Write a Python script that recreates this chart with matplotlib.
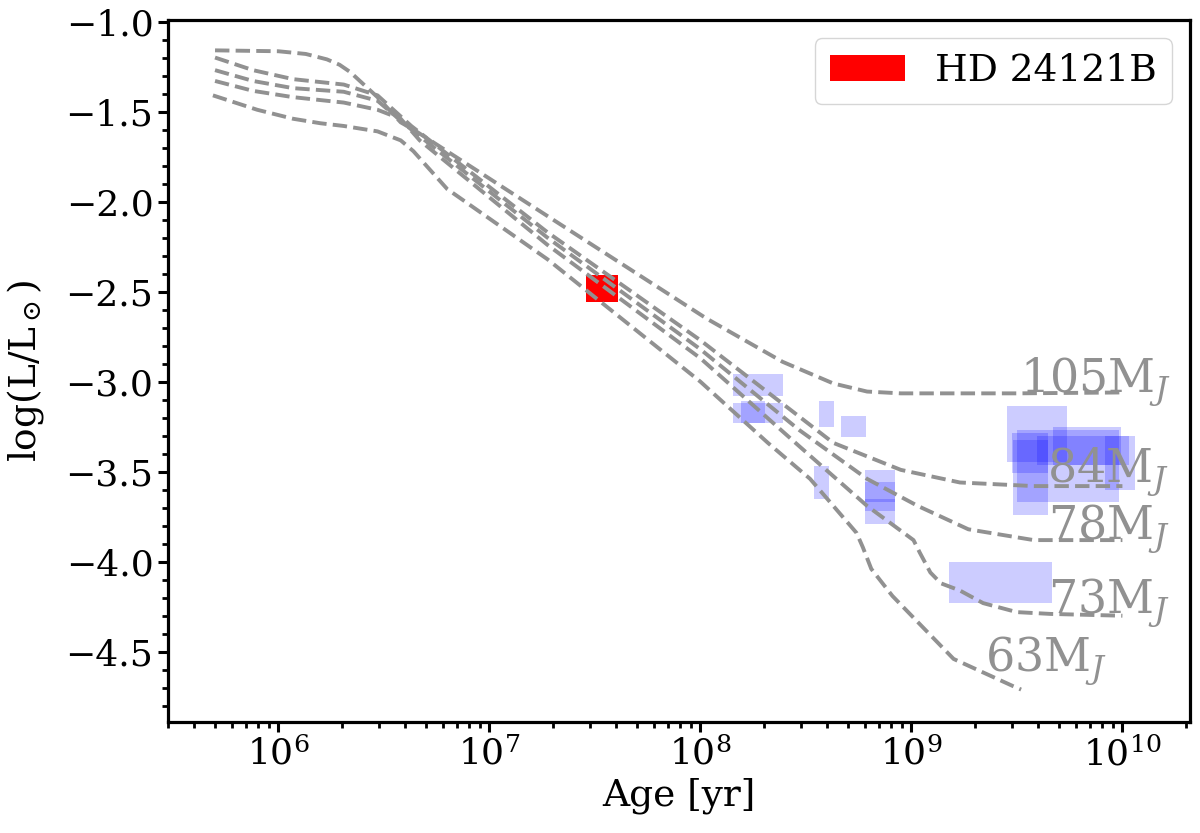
import numpy as np
import matplotlib
matplotlib.use("Agg")
import matplotlib.pyplot as plt

plt.rcParams['font.family'] = ['DejaVu Serif']
plt.rcParams['mathtext.fontset'] = 'dejavuserif'

# ---- evolutionary tracks (log10 age [yr], log L/Lsun) ----
track_names = ["105M$_J$", "84M$_J$", "78M$_J$", "73M$_J$", "63M$_J$"]

logage_105 = [5.70, 6.00, 6.13, 6.23, 6.29, 6.34, 6.47, 6.58, 6.64, 6.72, 7.275, 8.03, 8.39, 8.63, 8.79, 8.95, 9.50, 10.0]
lum_105    = [-1.16, -1.165, -1.18, -1.21, -1.24, -1.28, -1.42, -1.56, -1.60, -1.66, -2.08, -2.65, -2.89, -3.01, -3.055, -3.065, -3.065, -3.06]

logage_84 = [5.70, 5.88, 6.07, 6.31, 6.47, 6.63, 7.275, 8.0, 8.63, 8.95, 9.23, 9.58, 10.0]
lum_84    = [-1.20, -1.27, -1.32, -1.35, -1.41, -1.58, -2.17, -2.77, -3.34, -3.49, -3.56, -3.58, -3.58]

logage_78 = [5.70, 5.88, 6.07, 6.31, 6.47, 6.62, 7.275, 8.0, 8.47, 8.79, 9.03, 9.27, 9.58, 10.0]
lum_78    = [-1.27, -1.33, -1.37, -1.39, -1.44, -1.59, -2.20, -2.82, -3.27, -3.54, -3.69, -3.82, -3.88, -3.88]

logage_73 = [5.70, 5.88, 6.07, 6.31, 6.47, 6.58, 6.67, 7.275, 8.0, 8.47, 8.79, 9.01, 9.04, 9.09, 9.14, 9.23, 9.34, 9.50, 9.66, 10.0]
lum_73    = [-1.33, -1.385, -1.42, -1.45, -1.49, -1.54, -1.66, -2.24, -2.87, -3.36, -3.69, -3.88, -3.95, -4.06, -4.12, -4.16, -4.23, -4.28, -4.29, -4.30]

logage_63 = [5.69, 5.90, 6.07, 6.20, 6.31, 6.47, 6.58, 6.64, 6.80, 7.275, 8.0, 8.32, 8.52, 8.74, 8.77, 8.81, 8.91, 9.20, 9.48, 9.52]
lum_63    = [-1.41, -1.49, -1.54, -1.565, -1.58, -1.61, -1.66, -1.72, -1.93, -2.32, -3.00, -3.34, -3.54, -3.84, -3.92, -4.04, -4.19, -4.54, -4.69, -4.71]

# label anchor positions (log age, log L)
label_logage = [9.517, 9.645, 9.649, 9.649, 9.35]
label_lum    = [-3.06, -3.56, -3.88, -4.29, -4.61]

# ---- HD 24121B box ----
target_age = [2.88e7, 4.05e7]
target_lum = [-2.56, -2.41]

# ---- other benchmark boxes ----
box_age_min = [1.42e8, 1.42e8, 1.56e8, 3.66e8, 4.66e8, 3.47e8, 6.05e8, 6.05e8, 6.05e8, 1.51e9,
               2.85e9, 4.71e9, 3.18e9, 3.01e9, 3.04e9, 3.95e9, 8.30e9]
box_age_max = [2.47e8, 2.47e8, 2.03e8, 4.32e8, 6.12e8, 4.07e8, 8.39e8, 8.39e8, 8.39e8, 4.66e9,
               5.48e9, 9.89e9, 9.68e9, 4.46e9, 4.42e9, 1.07e10, 1.15e10]
box_lum_min = [-3.08, -3.23, -3.23, -3.25, -3.31, -3.65, -3.79, -3.67, -3.72, -4.23,
               -3.444, -3.461, -3.667, -3.506, -3.739, -3.461, -3.60]
box_lum_max = [-2.96, -3.12, -3.11, -3.11, -3.19, -3.47, -3.49, -3.56, -3.65, -4.00,
               -3.133, -3.25, -3.267, -3.283, -3.322, -3.30, -3.30]

tracks = [(logage_105, lum_105), (logage_84, lum_84), (logage_78, lum_78),
          (logage_73, lum_73), (logage_63, lum_63)]

fig = plt.figure(figsize=(12, 8.33), dpi=100)
ax = fig.add_axes([0.14, 0.1333, 0.852, 0.843])

line_color = '0.57'
for (la, lu) in tracks:
    ax.plot(10 ** np.array(la), lu, ls='--', color=line_color, lw=2.8)

for name, lx, ly in zip(track_names, label_logage, label_lum):
    ax.text(10 ** lx, ly, name, color=line_color, fontsize=33, ha='left', va='baseline')

for a0, a1, l0, l1 in zip(box_age_min, box_age_max, box_lum_min, box_lum_max):
    ax.fill_between([a0, a1], [l0, l0], [l1, l1], color='blue', alpha=0.2, lw=0)

ax.fill_between(target_age, [target_lum[0]] * 2, [target_lum[1]] * 2,
                color='red', lw=0, label='HD 24121B')

ax.set_xscale('log')
ax.set_xlim(3.0e5, 2.1e10)
ax.set_ylim(-4.89, -0.99)
ax.set_yticks([-1.0, -1.5, -2.0, -2.5, -3.0, -3.5, -4.0, -4.5])
ax.yaxis.set_minor_locator(matplotlib.ticker.MultipleLocator(0.1))

for s in ax.spines.values():
    s.set_linewidth(2.3)
ax.tick_params(which='major', length=7, width=2.2, labelsize=26, direction='out')
ax.tick_params(which='minor', length=4.5, width=2.0, direction='out')

ax.set_xlabel('Age [yr]', fontsize=27)
ax.set_ylabel(r'log(L/L$_\odot$)', fontsize=27, labelpad=14)

ax.legend(loc='upper right', fontsize=27)

fig.savefig('out.png', dpi=100)
